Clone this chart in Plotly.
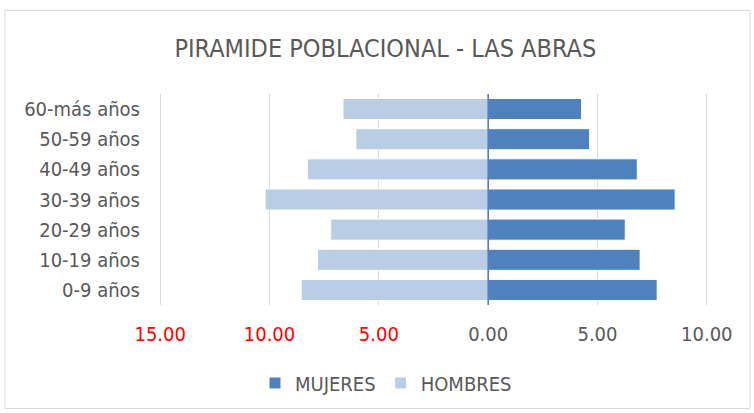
import plotly.graph_objects as go

categories = ["0-9 años", "10-19 años", "20-29 años", "30-39 años", "40-49 años", "50-59 años", "60-más años"]
mujeres = [7.73, 6.95, 6.27, 8.55, 6.82, 4.64, 4.27]
hombres = [8.55, 7.8, 7.2, 10.2, 8.27, 6.05, 6.64]
tick_vals = [-15, -10, -5, 0, 5, 10]
tick_text = ["<span style='color:#FF0000'>15.00</span>", "<span style='color:#FF0000'>10.00</span>",
             "<span style='color:#FF0000'>5.00</span>", "0.00", "5.00", "10.00"]

FONT = "DejaVu Sans Condensed, Liberation Sans Narrow, Open Sans, sans-serif"
GREY = "#595959"

fig = go.Figure()
fig.add_trace(go.Bar(
    y=categories, x=mujeres, orientation="h", name="MUJERES",
    marker=dict(color="#4F81BD", line=dict(color="#FFFFFF", width=1)),
))
fig.add_trace(go.Bar(
    y=categories, x=[-v for v in hombres], orientation="h", name="HOMBRES",
    marker=dict(color="#B9CDE5", line=dict(color="#FFFFFF", width=1)),
))

L, R, T, B = 158, 45, 94, 107
W, H = 754, 413
pw, ph = W - L - R, H - T - B

def px(xp):
    return (xp - L) / pw

def py(yp):
    return (H - B - yp) / ph

fig.update_layout(
    width=W, height=H,
    margin=dict(l=L, r=R, t=T, b=B),
    paper_bgcolor="white", plot_bgcolor="white",
    barmode="overlay", bargap=0.3,
    font=dict(family=FONT, color=GREY, size=20),
    title=dict(text="PIRAMIDE POBLACIONAL - LAS ABRAS", x=0.511, xanchor="center",
               y=0.884, yanchor="middle", font=dict(size=25, color=GREY, family=FONT)),
    xaxis=dict(range=[-15.1, 10.1], tickvals=tick_vals, ticktext=tick_text,
               showgrid=True, gridcolor="#D9D9D9", gridwidth=1, zeroline=False,
               tickfont=dict(size=20, color=GREY), ticks="", showline=False,
               ticklabelstandoff=15),
    yaxis=dict(showgrid=False, zeroline=False, ticks="", showline=False,
               tickfont=dict(size=20, color=GREY), ticklabelstandoff=17),
    legend=dict(orientation="h", x=px(386), xanchor="center", y=py(383), yanchor="middle",
                font=dict(size=20, color=GREY), traceorder="normal"),
    shapes=[
        dict(type="line", xref="x", yref="paper", x0=0, x1=0, y0=0, y1=1,
             line=dict(color="#4472C4", width=1.5)),
        dict(type="rect", xref="paper", yref="paper", x0=px(5), x1=px(750), y0=py(410), y1=py(10),
             line=dict(color="#D9D9D9", width=1), fillcolor="rgba(0,0,0,0)", layer="below"),
    ],
)

fig.write_html("out.html", config={"displayModeBar": False},
               post_script="document.body.style.margin='0px';")
